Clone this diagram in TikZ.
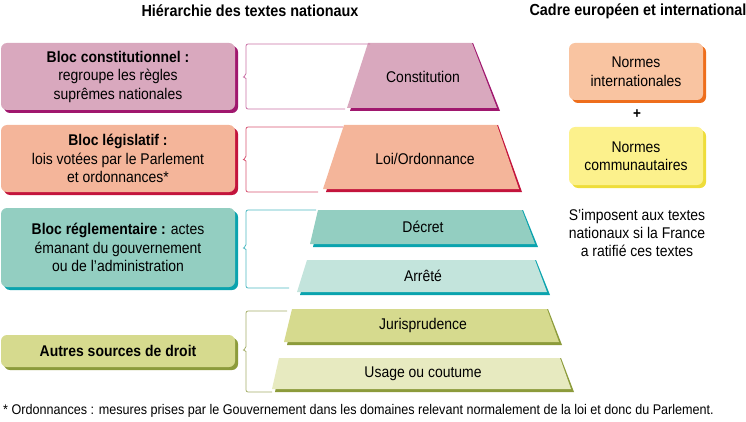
\documentclass[tikz,border=0pt]{standalone}
\usepackage{fontspec}
\setmainfont{Liberation Sans}[FakeStretch=0.9]
\usetikzlibrary{shadows}
\definecolor{pinkF}{HTML}{D9A8BE}\definecolor{pinkS}{HTML}{A0176E}\definecolor{pinkL}{HTML}{C870A5}
\definecolor{salF}{HTML}{F4B59A}\definecolor{salS}{HTML}{C3143C}\definecolor{salL}{HTML}{D65472}
\definecolor{tealF}{HTML}{93CEC1}\definecolor{tealP}{HTML}{C3E4DC}\definecolor{tealS}{HTML}{0AA3AE}\definecolor{tealL}{HTML}{4DB8C2}
\definecolor{oliF}{HTML}{D6DA8E}\definecolor{oliP}{HTML}{E7EAC0}\definecolor{oliS}{HTML}{8C9B3B}\definecolor{oliL}{HTML}{A4AE6A}
\definecolor{oraF}{HTML}{F9C4A1}\definecolor{oraS}{HTML}{EE6E1C}
\definecolor{yelF}{HTML}{FCF18C}\definecolor{yelS}{HTML}{EEDD3A}
\tikzset{
  txt/.style={font=\fontsize{15.5}{18.5}\selectfont, align=center, inner sep=0pt},
  lbox/.style={txt, rounded corners=6pt, minimum width=234pt, fill=#1},
  shd/.style={general shadow={fill=#1, shadow xshift=3pt, shadow yshift=-3pt}},
  brk/.style={draw=#1, line width=0.8pt},
  hdr/.style={font=\bfseries\fontsize{16}{18}\selectfont, inner sep=0pt},
}
% tl tr bl br yt yb fill shadow
\newcommand\trapz[8]{%
  \fill[#8] (#3+3,#6+3) -- (#1+3,#5+1) -- (#2+1,#5) -- (#4+3,#6+3) -- cycle;
  \fill[#7] (#3,#6) -- (#1,#5) -- (#2,#5) -- (#4,#6) -- cycle;
}
\begin{document}
\begin{tikzpicture}[x=1pt,y=-1pt]
\useasboundingbox (0,0) rectangle (746,422);

% headers
\node[hdr] (h1) at (250,11) {Hiérarchie des textes nationaux};
\node[hdr] (h2) at (638,11) {Cadre européen et international};

% left boxes
\node[lbox=pinkF, shd=pinkS, minimum height=67pt] (b1) at (118,76.5)
  {\textbf{Bloc constitutionnel :}\\regroupe les règles\\suprêmes nationales};
\node[lbox=salF, shd=salS, minimum height=67pt] (b2) at (118,158.5)
  {\textbf{Bloc législatif :}\\lois votées par le Parlement\\et ordonnances*};
\node[lbox=tealF, shd=tealS, minimum height=79pt] (b3) at (118,247.5)
  {\textbf{Bloc réglementaire :} actes\\émanant du gouvernement\\ou de l’administration};
\node[lbox=oliF, shd=oliS, minimum height=32pt] (b4) at (118,351)
  {\textbf{Autres sources de droit}};

% trapezoids
\trapz{368}{472}{347}{497}{43}{108}{pinkF}{pinkS}
\trapz{344}{497}{323}{519}{125}{189}{salF}{salS}
\trapz{318}{522}{310}{535}{210}{244}{tealF}{tealS}
\trapz{307}{535}{297}{547}{260}{292}{tealP}{tealS}
\trapz{292}{547}{284}{559}{309}{342}{oliF}{oliS}
\trapz{279}{560}{272}{571}{358}{389}{oliP}{oliS}
\node[txt] (t1) at (423,77) {Constitution};
\node[txt] (t2) at (425,159) {Loi/Ordonnance};
\node[txt] (t3) at (423,227) {Décret};
\node[txt] (t4) at (423,276) {Arrêté};
\node[txt] (t5) at (423,325) {Jurisprudence};
\node[txt] (t6) at (423,374) {Usage ou coutume};

% brackets
\draw[brk=pinkL, rounded corners=2pt] (370,44) -- (246,44) -- (246,75.5) [sharp corners] -- (243.5,77) -- (246,78.5) [rounded corners=2pt] -- (246,109) -- (345,109);
\draw[brk=salL, rounded corners=2pt] (343,127) -- (246,127) -- (246,158) [sharp corners] -- (243.5,159.5) -- (246,161) [rounded corners=2pt] -- (246,192) -- (318,192);
\draw[brk=tealL, rounded corners=2pt] (316,210) -- (246,210) -- (246,246.5) [sharp corners] -- (243.5,248) -- (246,249.5) [rounded corners=2pt] -- (246,288) -- (289,288);
\draw[brk=oliL, rounded corners=2pt] (287,311) -- (246,311) -- (246,348.5) [sharp corners] -- (243.5,350) -- (246,351.5) [rounded corners=2pt] -- (246,392) -- (272,392);

% right side
\node[lbox=oraF, shd=oraS, minimum width=134pt, minimum height=57pt] (n1) at (636,71.5)
  {Normes\\internationales};
\node[txt, font=\bfseries\fontsize{15}{17}\selectfont] (plus) at (637,114) {+};
\node[lbox=yelF, shd=yelS, minimum width=134pt, minimum height=58pt] (n2) at (636,156)
  {Normes\\communautaires};
\node[txt, font=\fontsize{15.5}{18}\selectfont] (s1) at (637,233)
  {S’imposent aux textes\\nationaux si la France\\a ratifié ces textes};

% footnote
\node[txt, font=\fontsize{14}{16}\selectfont, anchor=west] (fn) at (3,411)
  {* Ordonnances : mesures prises par le Gouvernement dans les domaines relevant normalement de la loi et donc du Parlement.};
\end{tikzpicture}
\end{document}
